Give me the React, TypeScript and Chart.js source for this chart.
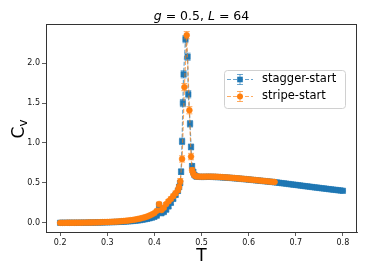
import React, { useEffect, useRef } from "react";
import { Chart, registerables } from "chart.js";

Chart.register(...registerables);

// ---------- data ----------
const blueT = [
  0.200, 0.205, 0.210, 0.215, 0.220, 0.225, 0.230, 0.235, 0.240, 0.245,
  0.250, 0.255, 0.260, 0.265, 0.270, 0.275, 0.280, 0.285, 0.290, 0.295,
  0.300, 0.305, 0.310, 0.315, 0.320, 0.325, 0.330, 0.335, 0.340, 0.345,
  0.350, 0.355, 0.360, 0.365, 0.370, 0.375, 0.380, 0.385, 0.390, 0.395,
  0.400, 0.405, 0.410, 0.415, 0.420, 0.425, 0.430, 0.435, 0.440, 0.445, 0.450,
  0.4525, 0.4546, 0.4567, 0.4588, 0.4605, 0.462, 0.466, 0.4705, 0.472, 0.4757,
  0.4778, 0.480, 0.4825, 0.485, 0.4875, 0.490,
  0.495, 0.500, 0.505, 0.510, 0.515, 0.520, 0.525, 0.530, 0.535, 0.540,
  0.545, 0.550, 0.555, 0.560, 0.565, 0.570, 0.575, 0.580, 0.585, 0.590,
  0.595, 0.600, 0.605, 0.610, 0.615, 0.620, 0.625, 0.630, 0.635, 0.640,
  0.645, 0.650, 0.655, 0.660, 0.665, 0.670, 0.675, 0.680, 0.685, 0.690,
  0.695, 0.700, 0.705, 0.710, 0.715, 0.720, 0.725, 0.730, 0.735, 0.740,
  0.745, 0.750, 0.755, 0.760, 0.765, 0.770, 0.775, 0.780, 0.785, 0.790,
  0.795, 0.800,
];
const blueC = [
  0.000, 0.000, 0.000, 0.000, 0.001, 0.001, 0.001, 0.001, 0.001, 0.002,
  0.002, 0.002, 0.003, 0.003, 0.003, 0.004, 0.004, 0.005, 0.005, 0.006,
  0.007, 0.008, 0.009, 0.010, 0.011, 0.012, 0.014, 0.015, 0.017, 0.019,
  0.021, 0.024, 0.027, 0.030, 0.034, 0.039, 0.044, 0.050, 0.057, 0.065,
  0.075, 0.090, 0.220, 0.120, 0.135, 0.165, 0.205, 0.250, 0.300, 0.350, 0.400,
  0.45, 0.50, 0.64, 1.02, 1.50, 1.86, 2.30, 2.08, 1.61, 1.24,
  0.95, 0.71, 0.64, 0.60, 0.585, 0.578,
  0.576, 0.575, 0.575, 0.576, 0.576, 0.576, 0.575, 0.574, 0.573, 0.571,
  0.569, 0.567, 0.565, 0.563, 0.561, 0.558, 0.556, 0.553, 0.550, 0.548,
  0.545, 0.542, 0.539, 0.536, 0.533, 0.530, 0.527, 0.524, 0.521, 0.518,
  0.515, 0.512, 0.508, 0.505, 0.501, 0.497, 0.494, 0.490, 0.486, 0.482,
  0.478, 0.475, 0.471, 0.467, 0.463, 0.459, 0.456, 0.452, 0.448, 0.444,
  0.441, 0.437, 0.433, 0.430, 0.426, 0.422, 0.419, 0.415, 0.412, 0.408,
  0.405, 0.401,
];
const blueErr = [
  0.002, 0.002, 0.002, 0.002, 0.002, 0.002, 0.002, 0.002, 0.002, 0.002,
  0.002, 0.002, 0.002, 0.002, 0.002, 0.002, 0.002, 0.002, 0.002, 0.002,
  0.003, 0.003, 0.003, 0.003, 0.003, 0.003, 0.003, 0.003, 0.003, 0.003,
  0.004, 0.004, 0.005, 0.005, 0.006, 0.006, 0.007, 0.008, 0.009, 0.010,
  0.010, 0.012, 0.025, 0.015, 0.015, 0.018, 0.020, 0.022, 0.024, 0.026, 0.028,
  0.030, 0.030, 0.035, 0.040, 0.045, 0.045, 0.045, 0.045, 0.045, 0.040,
  0.035, 0.030, 0.025, 0.020, 0.015, 0.012,
  0.010, 0.010, 0.010, 0.010, 0.010, 0.010, 0.010, 0.010, 0.010, 0.010,
  0.009, 0.009, 0.009, 0.009, 0.009, 0.009, 0.009, 0.009, 0.009, 0.009,
  0.008, 0.008, 0.008, 0.008, 0.008, 0.008, 0.008, 0.008, 0.008, 0.008,
  0.008, 0.008, 0.008, 0.008, 0.008, 0.008, 0.008, 0.008, 0.008, 0.008,
  0.007, 0.007, 0.007, 0.007, 0.007, 0.007, 0.007, 0.007, 0.007, 0.007,
  0.007, 0.007, 0.007, 0.007, 0.007, 0.007, 0.007, 0.007, 0.007, 0.007,
  0.007, 0.007,
];

const orangeT = [
  0.200, 0.205, 0.210, 0.215, 0.220, 0.225, 0.230, 0.235, 0.240, 0.245,
  0.250, 0.255, 0.260, 0.265, 0.270, 0.275, 0.280, 0.285, 0.290, 0.295,
  0.300, 0.305, 0.310, 0.315, 0.320, 0.325, 0.330, 0.335, 0.340, 0.345,
  0.350, 0.355, 0.360, 0.365, 0.370, 0.375, 0.380, 0.385, 0.390, 0.395,
  0.400, 0.405, 0.410, 0.415, 0.420, 0.425, 0.430, 0.435, 0.440, 0.445, 0.450,
  0.4525, 0.455, 0.4588, 0.4637, 0.4686, 0.4743, 0.4778, 0.480, 0.4825, 0.485,
  0.4875, 0.490,
  0.495, 0.500, 0.505, 0.510, 0.515, 0.520, 0.525, 0.530, 0.535, 0.540,
  0.545, 0.550, 0.555, 0.560, 0.565, 0.570, 0.575, 0.580, 0.585, 0.590,
  0.595, 0.600, 0.605, 0.610, 0.615, 0.620, 0.625, 0.630, 0.635, 0.640,
  0.645, 0.650, 0.655,
];
const orangeC = [
  0.000, 0.000, 0.000, 0.001, 0.001, 0.001, 0.001, 0.002, 0.002, 0.002,
  0.003, 0.003, 0.004, 0.004, 0.005, 0.005, 0.006, 0.007, 0.008, 0.009,
  0.010, 0.011, 0.013, 0.014, 0.016, 0.018, 0.020, 0.023, 0.026, 0.029,
  0.033, 0.037, 0.042, 0.048, 0.054, 0.062, 0.070, 0.080, 0.092, 0.106,
  0.122, 0.150, 0.235, 0.160, 0.190, 0.235, 0.270, 0.300, 0.335, 0.370, 0.410,
  0.45, 0.52, 0.80, 1.70, 2.35, 1.41, 0.83, 0.66, 0.62, 0.595,
  0.585, 0.580,
  0.579, 0.578, 0.578, 0.579, 0.579, 0.579, 0.578, 0.577, 0.576, 0.574,
  0.572, 0.570, 0.568, 0.566, 0.563, 0.561, 0.558, 0.555, 0.553, 0.550,
  0.547, 0.544, 0.541, 0.538, 0.535, 0.532, 0.529, 0.526, 0.523, 0.520,
  0.517, 0.514, 0.511,
];
const orangeErr = [
  0.002, 0.002, 0.002, 0.002, 0.002, 0.002, 0.002, 0.002, 0.002, 0.002,
  0.002, 0.002, 0.002, 0.002, 0.002, 0.002, 0.002, 0.002, 0.002, 0.002,
  0.003, 0.003, 0.003, 0.003, 0.003, 0.003, 0.003, 0.003, 0.003, 0.003,
  0.004, 0.004, 0.005, 0.005, 0.006, 0.006, 0.007, 0.008, 0.009, 0.010,
  0.012, 0.014, 0.025, 0.016, 0.018, 0.020, 0.022, 0.024, 0.026, 0.028, 0.030,
  0.030, 0.035, 0.040, 0.045, 0.045, 0.045, 0.040, 0.030, 0.025, 0.020,
  0.015, 0.012,
  0.010, 0.010, 0.010, 0.010, 0.010, 0.010, 0.010, 0.010, 0.010, 0.010,
  0.009, 0.009, 0.009, 0.009, 0.009, 0.009, 0.009, 0.009, 0.009, 0.009,
  0.008, 0.008, 0.008, 0.008, 0.008, 0.008, 0.008, 0.008, 0.008, 0.008,
  0.008, 0.008, 0.008,
];

const seriesNames = ["stagger-start", "stripe-start"];
const xTicks = [0.2, 0.3, 0.4, 0.5, 0.6, 0.7, 0.8];
const yTicks = [0.0, 0.5, 1.0, 1.5, 2.0];
const xLimits = [0.17, 0.83];
const yLimits = [-0.115, 2.49];

const BLUE = "#1f77b4";
const ORANGE = "#ff7f0e";
const BLUE_A = "rgba(31,119,180,0.65)";
const ORANGE_A = "rgba(255,127,14,0.65)";
const FONT = "'DejaVu Sans', 'Liberation Sans', sans-serif";

// ---------- plugins ----------
const errorBarPlugin = {
  id: "errorBars",
  beforeDatasetDraw(chart: any, args: any) {
    const ds = chart.data.datasets[args.index];
    const errs: number[] = ds.errors;
    if (!errs) return;
    const yS = chart.scales.y;
    const ctx = chart.ctx;
    const area = chart.chartArea;
    ctx.save();
    ctx.beginPath();
    ctx.rect(area.left, area.top, area.right - area.left, area.bottom - area.top);
    ctx.clip();
    ctx.strokeStyle = ds.errColor;
    ctx.lineWidth = 1;
    ctx.setLineDash([]);
    const cap = 3;
    args.meta.data.forEach((pt: any, i: number) => {
      const v = ds.data[i].y;
      const y1 = yS.getPixelForValue(v - errs[i]);
      const y2 = yS.getPixelForValue(v + errs[i]);
      const x = pt.x;
      ctx.beginPath();
      ctx.moveTo(x, y1);
      ctx.lineTo(x, y2);
      ctx.moveTo(x - cap, y1);
      ctx.lineTo(x + cap, y1);
      ctx.moveTo(x - cap, y2);
      ctx.lineTo(x + cap, y2);
      ctx.stroke();
    });
    ctx.restore();
  },
};

const decorPlugin = {
  id: "decor",
  afterDraw(chart: any) {
    const ctx = chart.ctx;
    const a = chart.chartArea;
    ctx.save();
    // frame
    ctx.strokeStyle = "#333";
    ctx.lineWidth = 1;
    ctx.setLineDash([]);
    ctx.strokeRect(Math.round(a.left) + 0.5, Math.round(a.top) + 0.5,
      Math.round(a.right - a.left) - 1, Math.round(a.bottom - a.top));

    // title with math italics
    const parts = [
      { t: "g", it: true },
      { t: " = 0.5, ", it: false },
      { t: "L", it: true },
      { t: " = 64", it: false },
    ];
    const fs = 12.5;
    let total = 0;
    parts.forEach((p) => {
      ctx.font = `${p.it ? "italic " : ""}${fs}px ${FONT}`;
      total += ctx.measureText(p.t).width;
    });
    let tx = (a.left + a.right) / 2 - total / 2;
    ctx.fillStyle = "#000";
    ctx.textBaseline = "alphabetic";
    ctx.textAlign = "left";
    parts.forEach((p) => {
      ctx.font = `${p.it ? "italic " : ""}${fs}px ${FONT}`;
      ctx.fillText(p.t, tx, 20);
      tx += ctx.measureText(p.t).width;
    });

    // x label
    ctx.font = `17px ${FONT}`;
    ctx.textAlign = "center";
    ctx.textBaseline = "alphabetic";
    ctx.fillText("T", (a.left + a.right) / 2, 261);

    // y label C_v
    ctx.save();
    ctx.translate(24, (a.top + a.bottom) / 2 + 1);
    ctx.rotate(-Math.PI / 2);
    ctx.font = `17px ${FONT}`;
    const wC = ctx.measureText("C").width;
    ctx.font = `12px ${FONT}`;
    const wv = ctx.measureText("v").width;
    const start = -(wC + wv) / 2;
    ctx.textAlign = "left";
    ctx.font = `17px ${FONT}`;
    ctx.fillText("C", start, 0);
    ctx.font = `12px ${FONT}`;
    ctx.fillText("v", start + wC, 3);
    ctx.restore();

    // legend
    const lx = a.right - 133;
    const ly = a.top + 46;
    const lw = 121;
    const lh = 38;
    ctx.fillStyle = "rgba(255,255,255,0.8)";
    ctx.strokeStyle = "#d0d0d0";
    ctx.lineWidth = 1;
    ctx.beginPath();
    (ctx as any).roundRect(lx + 0.5, ly + 0.5, lw, lh, 3);
    ctx.fill();
    ctx.stroke();
    const entries = [
      { c: BLUE, ca: BLUE_A, shape: "rect" },
      { c: ORANGE, ca: ORANGE_A, shape: "circle" },
    ];
    entries.forEach((e, i) => {
      const cy = ly + 9.5 + i * 17;
      const hx0 = lx + 3;
      const hx1 = lx + 29;
      const mx = (hx0 + hx1) / 2;
      ctx.strokeStyle = e.ca;
      ctx.lineWidth = 1.2;
      ctx.setLineDash([4, 2]);
      ctx.beginPath();
      ctx.moveTo(hx0, cy);
      ctx.lineTo(hx1, cy);
      ctx.stroke();
      ctx.setLineDash([]);
      ctx.lineWidth = 1;
      ctx.beginPath();
      ctx.moveTo(mx, cy - 5);
      ctx.lineTo(mx, cy + 5);
      ctx.moveTo(mx - 3, cy - 5);
      ctx.lineTo(mx + 3, cy - 5);
      ctx.moveTo(mx - 3, cy + 5);
      ctx.lineTo(mx + 3, cy + 5);
      ctx.stroke();
      ctx.fillStyle = e.c;
      if (e.shape === "rect") {
        ctx.fillRect(mx - 2.8, cy - 2.8, 5.6, 5.6);
      } else {
        ctx.beginPath();
        ctx.arc(mx, cy, 3, 0, Math.PI * 2);
        ctx.fill();
      }
      ctx.fillStyle = "#000";
      ctx.font = `11.5px ${FONT}`;
      ctx.textAlign = "left";
      ctx.textBaseline = "middle";
      ctx.fillText(seriesNames[i], lx + 38, cy);
    });
    ctx.restore();
  },
};

export default function App() {
  const ref = useRef<HTMLCanvasElement | null>(null);

  useEffect(() => {
    if (!ref.current) return;
    const tickFont = { family: FONT, size: 8 };
    const chart = new Chart(ref.current, {
      type: "scatter",
      data: {
        datasets: [
          {
            label: seriesNames[1],
            data: orangeT.map((t, i) => ({ x: t, y: orangeC[i] })),
            errors: orangeErr,
            errColor: ORANGE_A,
            showLine: true,
            borderColor: ORANGE_A,
            borderWidth: 1.2,
            borderDash: [4, 2],
            pointStyle: "circle",
            pointRadius: 2.9,
            pointBackgroundColor: ORANGE,
            pointBorderColor: ORANGE,
            pointBorderWidth: 0.6,
            order: 0,
          } as any,
          {
            label: seriesNames[0],
            data: blueT.map((t, i) => ({ x: t, y: blueC[i] })),
            errors: blueErr,
            errColor: BLUE_A,
            showLine: true,
            borderColor: BLUE_A,
            borderWidth: 1.2,
            borderDash: [4, 2],
            pointStyle: "rect",
            pointRadius: 3.8,
            pointBackgroundColor: BLUE,
            pointBorderColor: BLUE,
            pointBorderWidth: 0.6,
            order: 1,
          } as any,
        ],
      },
      options: {
        animation: false,
        responsive: false,
        devicePixelRatio: 1,
        events: [],
        layout: { padding: { left: 0, right: 8, top: 24, bottom: 0 } },
        plugins: {
          legend: { display: false },
          title: { display: false },
          tooltip: { enabled: false },
        },
        scales: {
          x: {
            type: "linear",
            min: xLimits[0],
            max: xLimits[1],
            afterBuildTicks: (s: any) => {
              s.ticks = xTicks.map((v) => ({ value: v }));
            },
            afterFit: (s: any) => {
              s.height = 42;
            },
            grid: {
              drawOnChartArea: false,
              drawTicks: true,
              tickLength: 4,
              color: "#333",
              lineWidth: 0.8,
            },
            border: { display: true, color: "#333", width: 1 },
            ticks: {
              font: tickFont,
              color: "#111",
              padding: 2,
              maxRotation: 0,
              autoSkip: false,
              callback: (v: any) => Number(v).toFixed(1),
            },
          },
          y: {
            type: "linear",
            min: yLimits[0],
            max: yLimits[1],
            afterBuildTicks: (s: any) => {
              s.ticks = yTicks.map((v) => ({ value: v }));
            },
            afterFit: (s: any) => {
              s.width = 46;
            },
            grid: {
              drawOnChartArea: false,
              drawTicks: true,
              tickLength: 4,
              color: "#333",
              lineWidth: 0.8,
            },
            border: { display: true, color: "#333", width: 1 },
            ticks: {
              font: tickFont,
              color: "#111",
              padding: 2,
              autoSkip: false,
              callback: (v: any) => Number(v).toFixed(1),
            },
          },
        },
      } as any,
      plugins: [errorBarPlugin, decorPlugin],
    });
    return () => chart.destroy();
  }, []);

  return (
    <div
      style={{
        position: "fixed",
        left: 0,
        top: 0,
        width: 365,
        height: 274,
        background: "#fff",
      }}
    >
      <canvas ref={ref} width={365} height={274} style={{ display: "block" }} />
    </div>
  );
}
